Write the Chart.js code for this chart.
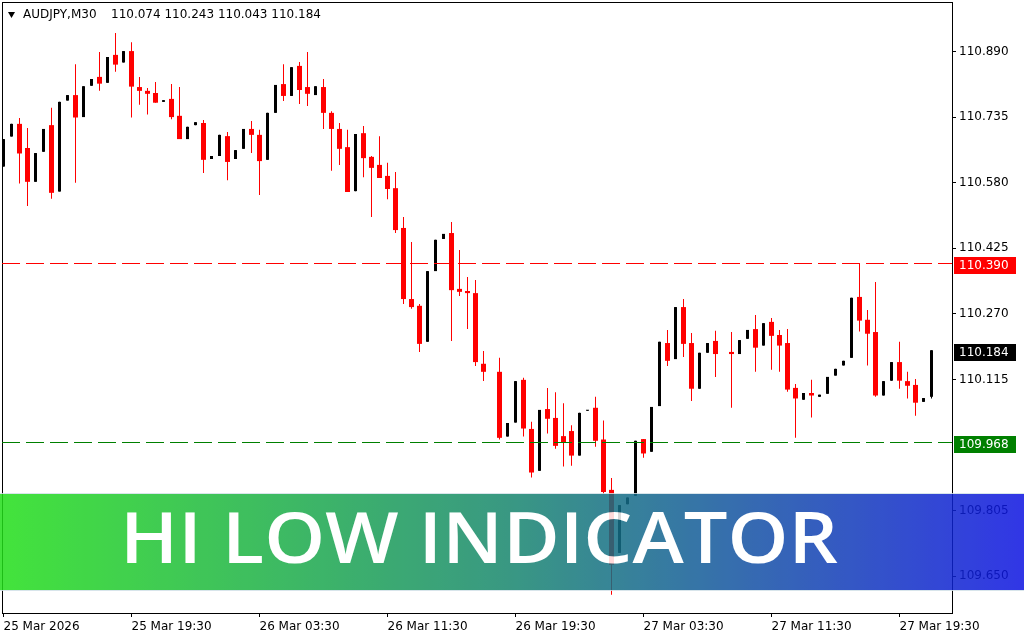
<!DOCTYPE html>
<html>
<head>
<meta charset="utf-8">
<title>AUDJPY M30 - Hi Low Indicator</title>
<script src="https://cdn.jsdelivr.net/npm/chart.js@4.4.1/dist/chart.umd.min.js"></script>
<style>
  html, body { margin: 0; padding: 0; background: #fff; }
  canvas { display: block; }
</style>
</head>
<body>
<canvas id="chart" width="1024" height="640"></canvas>
<script>
// AUDJPY M30 candles (bar 0 = 25 Mar 2026 11:30)
// null = no visible candle at that slot
const opens = [
  110.618, 110.689, 110.719, 110.662, 110.582, 110.653, 110.716, 110.559, 110.774, 110.787,
  110.735, 110.809, 110.830, 110.816, 110.882, 110.864, 110.891, 110.806, 110.797, 110.792,
  110.771, 110.778, 110.738, 110.683, 110.716, 110.721, 110.636, 110.643, 110.690, 110.636,
  110.660, 110.707, 110.693, 110.634, 110.745, 110.813, 110.785, 110.856, 110.806, 110.787,
  110.806, 110.745, 110.707, 110.664, 110.560, 110.697, 110.641, 110.622, 110.596, 110.567,
  110.473, 110.305, 110.289, 110.204, 110.371, 110.447, 110.461, 110.329, 110.324, 110.319,
  110.152, null,    110.133, 109.980, 110.013, 110.114, 109.998, 109.899, 110.045, 110.024,
  109.981, 109.993, 109.935, 110.041, 110.048, 109.973, 109.854, 109.705, 109.820, 109.840,
  109.974, 109.944, 110.052, 110.201, 110.163, 110.286, 110.201, 110.093, 110.178, 110.206,
  null,    110.180, 110.175, 110.211, 110.234, 110.195, 110.251, 110.220, 110.201, 110.095,
  110.067, 110.083, 110.074, 110.081, 110.124, 110.148, 110.166, 110.310, 110.256, 110.227,
  110.077, 110.112, 110.156, 110.111, 110.102, 110.062, 110.074
];
const highs = [
  110.683, 110.719, 110.733, 110.709, 110.650, 110.707, 110.757, 110.771, 110.787, 110.860,
  110.808, 110.825, 110.889, 110.877, 110.934, 110.891, 110.912, 110.830, 110.804, 110.818,
  110.775, 110.813, 110.806, 110.712, 110.723, 110.728, 110.643, 110.693, 110.700, 110.657,
  110.707, 110.726, 110.705, 110.745, 110.811, 110.860, 110.853, 110.865, 110.889, 110.808,
  110.825, 110.749, 110.721, 110.705, 110.695, 110.714, 110.643, 110.690, 110.627, 110.605,
  110.499, 110.440, 110.293, 110.371, 110.445, 110.459, 110.487, 110.421, 110.357, 110.350,
  110.182, null,    110.166, 110.012, 110.111, 110.119, 110.015, 110.043, 110.095, 110.085,
  110.059, 110.007, 110.036, 110.043, 110.074, 110.018, 109.882, 109.818, 109.836, 109.970,
  109.974, 110.050, 110.204, 110.232, 110.286, 110.305, 110.225, 110.178, 110.201, 110.230,
  null,    110.227, 110.208, 110.232, 110.267, 110.248, 110.260, 110.232, 110.234, 110.104,
  110.083, 110.114, 110.079, 110.121, 110.140, 110.159, 110.308, 110.390, 110.279, 110.345,
  110.111, 110.156, 110.204, 110.133, 110.116, 110.071, 110.184
];
const lows = [
  110.618, 110.689, 110.578, 110.525, 110.582, 110.653, 110.542, 110.559, 110.774, 110.580,
  110.735, 110.809, 110.797, 110.816, 110.842, 110.864, 110.734, 110.764, 110.741, 110.769,
  110.771, 110.730, 110.683, 110.683, 110.716, 110.603, 110.636, 110.643, 110.586, 110.636,
  110.660, 110.650, 110.551, 110.634, 110.745, 110.773, 110.785, 110.766, 110.761, 110.787,
  110.707, 110.608, 110.622, 110.558, 110.560, 110.593, 110.499, 110.591, 110.541, 110.461,
  110.293, 110.282, 110.180, 110.204, 110.371, 110.447, 110.206, 110.312, 110.234, 110.147,
  110.111, null,    109.973, 109.980, 110.013, 109.980, 109.883, 109.899, 109.987, 109.951,
  109.909, 109.911, 109.935, 110.041, 109.956, 109.844, 109.606, 109.705, 109.820, 109.840,
  109.930, 109.944, 110.052, 110.147, 110.163, 110.168, 110.064, 110.093, 110.178, 110.121,
  null,    110.048, 110.175, 110.211, 110.133, 110.195, 110.138, 110.133, 110.086, 109.977,
  110.067, 110.025, 110.074, 110.081, 110.124, 110.148, 110.166, 110.228, 110.148, 110.074,
  110.077, 110.112, 110.093, 110.070, 110.029, 110.062, 110.070
];
const closes = [
  110.683, 110.719, 110.649, 110.582, 110.650, 110.707, 110.556, 110.771, 110.787, 110.734,
  110.808, 110.825, 110.814, 110.877, 110.859, 110.891, 110.807, 110.797, 110.790, 110.769,
  110.775, 110.735, 110.683, 110.712, 110.723, 110.634, 110.643, 110.693, 110.629, 110.657,
  110.707, 110.693, 110.631, 110.745, 110.811, 110.785, 110.853, 110.799, 110.790, 110.808,
  110.745, 110.707, 110.660, 110.558, 110.695, 110.638, 110.615, 110.591, 110.565, 110.468,
  110.305, 110.286, 110.199, 110.371, 110.445, 110.459, 110.326, 110.322, 110.319, 110.156,
  110.133, null,    109.977, 110.012, 110.111, 109.999, 109.895, 110.043, 110.022, 109.958,
  109.965, 109.935, 110.036, 110.043, 109.970, 109.849, 109.677, 109.818, 109.836, 109.970,
  109.940, 110.050, 110.204, 110.159, 110.286, 110.199, 110.093, 110.178, 110.201, 110.175,
  null,    110.175, 110.208, 110.232, 110.190, 110.248, 110.218, 110.195, 110.091, 110.070,
  110.083, 110.077, 110.079, 110.121, 110.140, 110.159, 110.308, 110.254, 110.223, 110.077,
  110.111, 110.156, 110.112, 110.100, 110.060, 110.071, 110.184
];

const xTickIdx = [0, 16, 32, 48, 64, 80, 96, 112];
const xTickLabels = ['25 Mar 2026', '25 Mar 19:30', '26 Mar 03:30', '26 Mar 11:30',
                     '26 Mar 19:30', '27 Mar 03:30', '27 Mar 11:30', '27 Mar 19:30'];
const yTickValues = [109.650, 109.805, 110.115, 110.270, 110.425, 110.580, 110.735, 110.890];
const hiLevel = 110.390;
const loLevel = 109.968;
const lastPrice = 110.184;
const headerSymbol = 'AUDJPY,M30';
const headerValues = '110.074 110.243 110.043 110.184';
const bannerText = 'HI LOW INDICATOR';

// Split candles into wicks and up/down bodies
const wickData = [], wickColors = [], bearData = [], bullData = [];
opens.forEach((o, i) => {
    if (o === null) return;
    const c = closes[i];
    const up = c >= o;
    wickData.push({ x: i, y: [lows[i], highs[i]] });
    wickColors.push(up ? '#000000' : '#ff0000');
    (up ? bullData : bearData).push({ x: i, y: [Math.min(o, c), Math.max(o, c)] });
});

Chart.defaults.font.family = '"DejaVu Sans", Verdana, sans-serif';
Chart.defaults.font.size = 12;
Chart.defaults.color = '#000';

// Draws frame, hi/lo lines, price boxes, header and banner
const overlayPlugin = {
    id: 'overlay',
    beforeDraw(chart) {
        const ctx = chart.ctx;
        ctx.save();
        ctx.fillStyle = '#fff';
        ctx.fillRect(0, 0, chart.width, chart.height);
        ctx.restore();
    },
    afterDraw(chart) {
        const ctx = chart.ctx;
        const y = chart.scales.y;
        const area = chart.chartArea;
        ctx.save();

        // frame
        ctx.strokeStyle = '#000';
        ctx.lineWidth = 1;
        ctx.strokeRect(area.left + 0.5, area.top + 0.5, area.right - area.left, area.bottom - area.top);

        // hi / lo dashed levels
        const levels = [
            { v: hiLevel, line: '#ff0000' },
            { v: loLevel, line: '#008000' }
        ];
        ctx.setLineDash([18, 6]);
        levels.forEach(l => {
            const py = Math.round(y.getPixelForValue(l.v)) + 0.5;
            ctx.strokeStyle = l.line;
            ctx.beginPath();
            ctx.moveTo(area.left, py);
            ctx.lineTo(area.right, py);
            ctx.stroke();
        });
        ctx.setLineDash([]);

        // price boxes on the axis
        const boxes = [
            { v: hiLevel, bg: '#ff0000' },
            { v: lastPrice, bg: '#000000' },
            { v: loLevel, bg: '#008000' }
        ];
        ctx.font = '12px "DejaVu Sans"';
        ctx.textBaseline = 'middle';
        ctx.textAlign = 'left';
        boxes.forEach(b => {
            const top = Math.round(y.getPixelForValue(b.v)) - 6;
            ctx.fillStyle = b.bg;
            ctx.fillRect(954, top, 62, 17);
            ctx.fillStyle = '#fff';
            ctx.fillText(b.v.toFixed(3), 959, top + 9);
        });

        // header
        ctx.fillStyle = '#000';
        ctx.beginPath();
        ctx.moveTo(8, 12);
        ctx.lineTo(15, 12);
        ctx.lineTo(11.5, 18);
        ctx.closePath();
        ctx.fill();
        ctx.fillText(headerSymbol, 23, 15);
        ctx.fillText(headerValues, 111, 15);

        // banner, built offscreen then laid over the chart semi-transparent
        const bw = 1024, bh = 98, btop = 493;
        const off = document.createElement('canvas');
        off.width = bw;
        off.height = bh;
        const o = off.getContext('2d');
        const g = o.createLinearGradient(0, 0, bw, 0);
        g.addColorStop(0, 'rgb(35,223,26)');
        g.addColorStop(0.5, 'rgb(23,134,110)');
        g.addColorStop(1, 'rgb(14,20,226)');
        o.fillStyle = g;
        o.fillRect(0, 0, bw, bh);
        o.fillStyle = 'rgb(210,225,232)';
        o.fillRect(0, 0, bw, 1);
        o.fillRect(0, bh - 1, bw, 1);
        o.font = '600 70px "Open Sans"';
        o.textBaseline = 'alphabetic';
        o.fillStyle = '#fff';
        const tw = o.measureText(bannerText).width;
        o.save();
        o.translate(120, 70);
        o.scale(718 / tw, 1);
        o.fillText(bannerText, 0, 0);
        o.restore();

        ctx.globalAlpha = 0.85;
        ctx.drawImage(off, 0, btop);
        ctx.globalAlpha = 1;
        ctx.restore();
    }
};

const xMin = -0.1875;

new Chart(document.getElementById('chart'), {
    type: 'bar',
    data: {
        datasets: [
            { label: 'wicks', data: wickData, backgroundColor: wickColors,
              barThickness: 1, grouped: false, inflateAmount: 0 },
            { label: 'bear', data: bearData, backgroundColor: '#ff0000',
              barThickness: 5, minBarLength: 1, grouped: false, inflateAmount: 0 },
            { label: 'bull', data: bullData, backgroundColor: '#000000',
              barThickness: 3, minBarLength: 1, grouped: false, inflateAmount: 0 }
        ]
    },
    options: {
        responsive: false,
        animation: false,
        devicePixelRatio: 1,
        layout: { padding: { left: 2, top: 2, right: 0, bottom: 0 } },
        plugins: {
            legend: { display: false },
            tooltip: { enabled: false }
        },
        scales: {
            x: {
                type: 'linear',
                min: xMin,
                max: xMin + 950 / 8,
                offset: false,
                grid: { display: true, offset: false, drawOnChartArea: false, drawTicks: true,
                        tickLength: 4, color: '#000', lineWidth: 1 },
                border: { display: false },
                afterBuildTicks: (axis) => { axis.ticks = xTickIdx.map(v => ({ value: v })); },
                afterFit: (axis) => {
                    axis.height = 27;
                    axis.paddingLeft = 0;
                    axis.paddingRight = 0;
                },
                ticks: {
                    autoSkip: false,
                    maxRotation: 0,
                    minRotation: 0,
                    align: 'start',
                    padding: 3,
                    callback: (v, idx) => xTickLabels[idx]
                }
            },
            y: {
                position: 'right',
                min: 109.563,
                max: 111.007,
                grid: { display: true, drawOnChartArea: false, drawTicks: true,
                        tickLength: 4, color: '#000', lineWidth: 1 },
                border: { display: false },
                afterBuildTicks: (axis) => { axis.ticks = yTickValues.map(v => ({ value: v })); },
                afterFit: (axis) => {
                    axis.width = 72;
                    axis.paddingTop = 0;
                    axis.paddingBottom = 0;
                },
                ticks: {
                    padding: 3,
                    callback: (v) => v.toFixed(3)
                }
            }
        }
    },
    plugins: [overlayPlugin]
});
</script>
</body>
</html>
